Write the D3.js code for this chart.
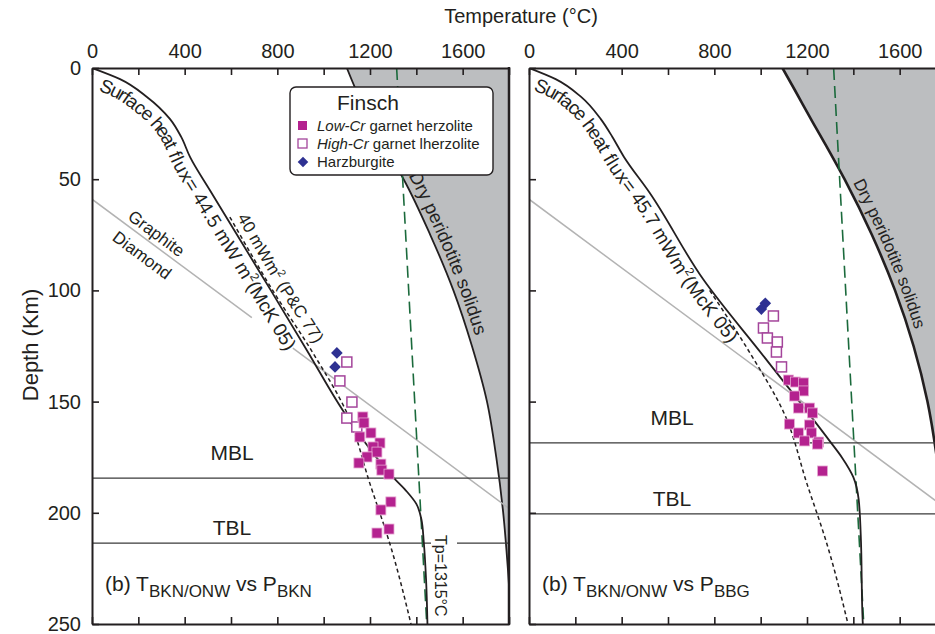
<!DOCTYPE html>
<html>
<head>
<meta charset="utf-8">
<script src="https://cdn.jsdelivr.net/npm/d3@7"></script>
<style>
body { margin: 0; background: #fff; }
text { font-family: "Liberation Sans", Arial, sans-serif; fill: #231f20; }
</style>
</head>
<body>
<svg id="chart" width="935" height="634"></svg>
<script>
// temperature (C) / depth (km) values
const tempTicks = [0, 200, 400, 600, 800, 1000, 1200, 1400, 1600, 1800]
const tempLabels = [0, 400, 800, 1200, 1600]
const depthTicks = [0, 50, 100, 150, 200, 250]

const solidusLeft = [{t: 1100, d: 0}, {t: 1140, d: 10}, {t: 1210, d: 25}, {t: 1260, d: 35},
    {t: 1345, d: 50}, {t: 1460, d: 75}, {t: 1560, d: 100}, {t: 1640, d: 125},
    {t: 1705, d: 150}, {t: 1745, d: 175}, {t: 1775, d: 200}, {t: 1795, d: 225}, {t: 1810, d: 250}]
const solidusRight = [{t: 1094, d: 0}, {t: 1148, d: 10}, {t: 1228, d: 25}, {t: 1283, d: 35},
    {t: 1362, d: 50}, {t: 1480, d: 75}, {t: 1580, d: 100}, {t: 1660, d: 125},
    {t: 1720, d: 150}, {t: 1760, d: 175}, {t: 1788, d: 200}, {t: 1815, d: 250}]

const adiabat = [{t: 1315, d: 0}, {t: 1445, d: 250}]

const graphiteDiamond = [{t: 0, d: 59}, {t: 1800, d: 198}]

const geothermLeft = [{t: 0, d: 0}, {t: 121, d: 5}, {t: 237, d: 13}, {t: 337, d: 23}, {t: 385, d: 31},
    {t: 423, d: 40}, {t: 509, d: 55}, {t: 597, d: 70}, {t: 772, d: 100}, {t: 928, d: 127},
    {t: 1083, d: 154}, {t: 1190, d: 170}, {t: 1299, d: 184}, {t: 1355, d: 190}, {t: 1400, d: 196},
    {t: 1422, d: 203}, {t: 1432, d: 213}, {t: 1442, d: 230}, {t: 1448, d: 250}]

const geothermRight = [{t: 0, d: 0}, {t: 115, d: 5}, {t: 225, d: 13}, {t: 310, d: 23}, {t: 360, d: 31},
    {t: 410, d: 40}, {t: 520, d: 56}, {t: 752, d: 95}, {t: 1016, d: 130}, {t: 1300, d: 168},
    {t: 1350, d: 175}, {t: 1400, d: 184}, {t: 1423, d: 194}, {t: 1432, d: 210}, {t: 1440, d: 248}, {t: 1441, d: 250}]

const pc77Left = [{t: 595, d: 67}, {t: 780, d: 100}, {t: 953, d: 128}, {t: 1100, d: 155},
    {t: 1200, d: 187}, {t: 1286, d: 214}, {t: 1377, d: 250}]
const pc77Right = [{t: 780, d: 100}, {t: 953, d: 128}, {t: 1100, d: 155},
    {t: 1200, d: 187}, {t: 1286, d: 214}, {t: 1377, d: 250}]

// Finsch xenoliths, left panel (P BKN)
const lowCrLeft = [{t: 1169, d: 156.9}, {t: 1174, d: 159.6}, {t: 1204, d: 164.1}, {t: 1156, d: 165.9},
    {t: 1243, d: 168.6}, {t: 1213, d: 170.4}, {t: 1230, d: 172.7}, {t: 1187, d: 174.9},
    {t: 1152, d: 177.6}, {t: 1247, d: 178.1}, {t: 1251, d: 180.8}, {t: 1282, d: 182.6},
    {t: 1290, d: 195.1}, {t: 1247, d: 198.7}, {t: 1282, d: 207.3}, {t: 1230, d: 209.1}]
const highCrLeft = [{t: 1100, d: 132.2}, {t: 1070, d: 140.7}, {t: 1122, d: 150.2},
    {t: 1100, d: 157.4}, {t: 1143, d: 161.4}]
const harzLeft = [{t: 1057, d: 128.1}, {t: 1049, d: 134.4}]

// right panel (P BBG)
const lowCrRight = [{t: 1120, d: 140.3}, {t: 1150, d: 141.2}, {t: 1185, d: 141.6}, {t: 1185, d: 145.2},
    {t: 1146, d: 147.5}, {t: 1163, d: 152.9}, {t: 1211, d: 152.9}, {t: 1224, d: 155.1},
    {t: 1124, d: 160.1}, {t: 1211, d: 160.5}, {t: 1163, d: 164.1}, {t: 1219, d: 164.1},
    {t: 1189, d: 167.7}, {t: 1250, d: 168.2}, {t: 1245, d: 169.1}, {t: 1267, d: 181.2}]
const highCrRight = [{t: 1055, d: 111.5}, {t: 1012, d: 116.9}, {t: 1029, d: 121.4},
    {t: 1072, d: 123.2}, {t: 1068, d: 127.7}, {t: 1090, d: 134.4}]
const harzRight = [{t: 1020, d: 105.8}, {t: 1003, d: 108.4}]

const svg = d3.select('#chart')
const ink = '#231f20'

function drawPanel(p) {
    const x = d3.scaleLinear().domain([0, 1800]).range([p.left, p.left + 417])
    const y = d3.scaleLinear().domain([0, 250]).range([68, 624])
    const line = d3.line().x(d => x(d.t)).y(d => y(d.d)).curve(d3.curveMonotoneY)

    svg.append('clipPath').attr('id', 'clip' + p.id)
        .append('rect').attr('x', x(0)).attr('y', y(0))
        .attr('width', x(1800) - x(0)).attr('height', y(250) - y(0))

    const g = svg.append('g').attr('clip-path', 'url(#clip' + p.id + ')')

    // melt region right of the solidus
    g.append('path')
        .attr('d', d3.area().y(d => y(d.d)).x0(d => x(d.t)).x1(x(2000))
            .curve(d3.curveMonotoneY)(p.solidus))
        .attr('fill', '#bcbec0')
    g.append('path').attr('id', 'sol' + p.id).attr('d', line(p.solidus))
        .attr('fill', 'none').attr('stroke', ink).attr('stroke-width', p.solidusWidth)

    // graphite / diamond
    const gdDepth = t => graphiteDiamond[0].d + (graphiteDiamond[1].d - graphiteDiamond[0].d) * t / 1800
    p.gdSegments.forEach(s => {
        g.append('path').attr('d', d3.line().x(t => x(t)).y(t => y(gdDepth(t)))(s))
            .attr('stroke', '#b3b3b3').attr('stroke-width', 1.5).attr('fill', 'none')
    })

    // lithosphere boundary layers
    ;[p.mbl, p.tbl].forEach(v => {
        g.append('line').attr('x1', x(0)).attr('x2', x(1800)).attr('y1', y(v)).attr('y2', y(v))
            .attr('stroke', '#3a3a3a').attr('stroke-width', 1.2)
    })

    g.append('path').attr('d', d3.line().x(d => x(d.t)).y(d => y(d.d))(adiabat))
        .attr('fill', 'none').attr('stroke', '#1b6a3c').attr('stroke-width', 1.6)
        .attr('stroke-dasharray', '12,6')

    g.append('path').attr('id', 'pc' + p.id).attr('d', line(p.pc77))
        .attr('fill', 'none').attr('stroke', ink).attr('stroke-width', 1.5)
        .attr('stroke-dasharray', '4,3')

    g.append('path').attr('id', 'geo' + p.id).attr('d', line(p.geotherm))
        .attr('fill', 'none').attr('stroke', ink).attr('stroke-width', 1.8)

    // curve labels, shifted off their curves with dy on the first tspan
    const geoLabel = g.append('text').style('font-size', '19px')
        .append('textPath').attr('href', '#geo' + p.id).attr('startOffset', p.fluxOffset)
    geoLabel.append('tspan').attr('dy', 19).text(p.fluxText)
    geoLabel.append('tspan').attr('dy', -8).style('font-size', '12px').text('2')
    geoLabel.append('tspan').attr('dy', 8).text('(McK 05)')

    g.append('text').style('font-size', p.solFont)
        .append('textPath').attr('href', '#sol' + p.id).attr('startOffset', p.solLabelOffset)
        .append('tspan').attr('dy', -6).text('Dry peridotite solidus')

    const ang = Math.atan2(y(gdDepth(1800)) - y(gdDepth(0)), x(1800) - x(0)) * 180 / Math.PI
    if (p.id === 'L') {
        g.append('text').attr('transform', `translate(${x(250)},${y(gdDepth(250))}) rotate(${ang})`)
            .attr('text-anchor', 'middle').attr('dy', -5).style('font-size', '17px').text('Graphite')
        g.append('text').attr('transform', `translate(${x(255)},${y(gdDepth(255))}) rotate(${ang})`)
            .attr('text-anchor', 'middle').attr('dy', 21).style('font-size', '17px').text('Diamond')

        const pcLabel = g.append('text').style('font-size', '17px')
            .append('textPath').attr('href', '#pcL').attr('startOffset', 4)
        pcLabel.append('tspan').attr('dy', -6).text('40 mWm')
        pcLabel.append('tspan').attr('dy', -7).style('font-size', '11px').text('2')
        pcLabel.append('tspan').attr('dy', 7).text('  (P&C 77)')

        g.append('rect').attr('x', 431).attr('y', 532).attr('width', 26).attr('height', 90).attr('fill', '#fff')
        g.append('text').attr('transform', 'translate(441,535) rotate(90)')
            .attr('dy', '0.35em').style('font-size', '16px').text('Tp=1315°C')
    }

    g.append('text').attr('x', p.mblX).attr('y', y(p.mbl) - 18).attr('text-anchor', 'middle')
        .style('font-size', '21px').text('MBL')
    g.append('text').attr('x', p.mblX).attr('y', y(p.tbl) - 8).attr('text-anchor', 'middle')
        .style('font-size', '21px').text('TBL')

    const cap = g.append('text').attr('x', p.left + 13).attr('y', 591).style('font-size', '21px')
    cap.append('tspan').text('(b) T')
    cap.append('tspan').attr('dy', 6).style('font-size', '17px').text('BKN/ONW')
    cap.append('tspan').attr('dy', -6).text(' vs P')
    cap.append('tspan').attr('dy', 6).style('font-size', '17px').text(p.pName)

    // xenolith data
    g.append('g').selectAll('rect').data(p.highCr).enter().append('rect')
        .attr('x', d => x(d.t) - 5).attr('y', d => y(d.d) - 5).attr('width', 10).attr('height', 10)
        .attr('fill', '#fff').attr('stroke', '#a4459b').attr('stroke-width', 1.5)
    g.append('g').selectAll('rect').data(p.lowCr).enter().append('rect')
        .attr('x', d => x(d.t) - 5).attr('y', d => y(d.d) - 5).attr('width', 10).attr('height', 10)
        .attr('fill', '#b4228f').attr('stroke', '#e7a9d3').attr('stroke-width', 0.8)
    g.append('g').selectAll('path').data(p.harz).enter().append('path')
        .attr('d', d3.symbol().type(d3.symbolSquare).size(68))
        .attr('transform', d => `translate(${x(d.t)},${y(d.d)}) rotate(45)`)
        .attr('fill', '#2e3192')

    // axes, ticks point inward
    const top = svg.append('g').attr('transform', `translate(0,${y(0)})`)
        .call(d3.axisTop(x).tickValues(tempTicks).tickSizeInner(-7).tickSizeOuter(0).tickPadding(10)
            .tickFormat(v => tempLabels.includes(v) ? v : ''))
    const left = svg.append('g').attr('transform', `translate(${x(0)},0)`)
        .call(d3.axisLeft(y).tickValues(depthTicks).tickSizeInner(-7).tickSizeOuter(0).tickPadding(11)
            .tickFormat(v => p.id === 'L' ? v : ''))
    const bottom = svg.append('g').attr('transform', `translate(0,${y(250)})`)
        .call(d3.axisBottom(x).tickValues(tempTicks).tickSizeInner(-7).tickSizeOuter(0).tickFormat(''))
    ;[top, left, bottom].forEach(a => {
        a.selectAll('text').style('font-size', '20px').style('font-family', null).attr('fill', ink)
        a.selectAll('line').attr('stroke', ink).attr('stroke-width', 1.6)
        a.select('.domain').attr('stroke', ink).attr('stroke-width', 2)
    })
    if (p.id === 'L') {
        svg.append('line').attr('x1', x(1800)).attr('x2', x(1800)).attr('y1', y(0) - 1).attr('y2', y(250) + 1)
            .attr('stroke', ink).attr('stroke-width', 2.5)
    }
}

drawPanel({id: 'L', left: 92, solidus: solidusLeft, geotherm: geothermLeft, pc77: pc77Left,
    fluxText: 'Surface heat flux= 44.5 mW m', fluxOffset: 14, mbl: 184.4, tbl: 213.6, mblX: 232,
    pName: 'BKN', lowCr: lowCrLeft, highCr: highCrLeft, harz: harzLeft,
    gdSegments: [[0, 690], [867, 1800]], solidusWidth: 1.8, solLabelOffset: 124, solFont: '18.5px'})

drawPanel({id: 'R', left: 529, solidus: solidusRight, geotherm: geothermRight, pc77: pc77Right,
    fluxText: 'Surface heat flux= 45.7 mWm', fluxOffset: 12, mbl: 168.6, tbl: 200.5, mblX: 672,
    pName: 'BBG', lowCr: lowCrRight, highCr: highCrRight, harz: harzRight,
    gdSegments: [[0, 1800]], solidusWidth: 2.6, solLabelOffset: 134, solFont: '17px'})

// legend
const lg = svg.append('g')
lg.append('rect').attr('x', 290).attr('y', 87).attr('width', 203).attr('height', 88).attr('rx', 6)
    .attr('fill', '#fff').attr('stroke', ink).attr('stroke-width', 1.4)
lg.append('text').attr('x', 337).attr('y', 110).style('font-size', '21px').text('Finsch')
lg.append('rect').attr('x', 298).attr('y', 121).attr('width', 9).attr('height', 9).attr('fill', '#b4228f')
lg.append('rect').attr('x', 298).attr('y', 139).attr('width', 9).attr('height', 9)
    .attr('fill', '#fff').attr('stroke', '#a4459b').attr('stroke-width', 1.3)
lg.append('path').attr('d', d3.symbol().type(d3.symbolSquare).size(56))
    .attr('transform', 'translate(303,162) rotate(45)').attr('fill', '#2e3192')
const items = [['Low-Cr', ' garnet herzolite', 131], ['High-Cr', ' garnet lherzolite', 149], ['', 'Harzburgite', 167]]
items.forEach(it => {
    const t = lg.append('text').attr('x', 317).attr('y', it[2]).style('font-size', '15px')
    t.append('tspan').style('font-style', 'italic').text(it[0])
    t.append('tspan').text(it[1])
})

svg.append('text').attr('x', 521).attr('y', 23).attr('text-anchor', 'middle')
    .style('font-size', '20px').text('Temperature (°C)')
svg.append('text').attr('transform', 'translate(38,345) rotate(-90)').attr('text-anchor', 'middle')
    .style('font-size', '22px').text('Depth (Km)')
</script>
</body>
</html>
